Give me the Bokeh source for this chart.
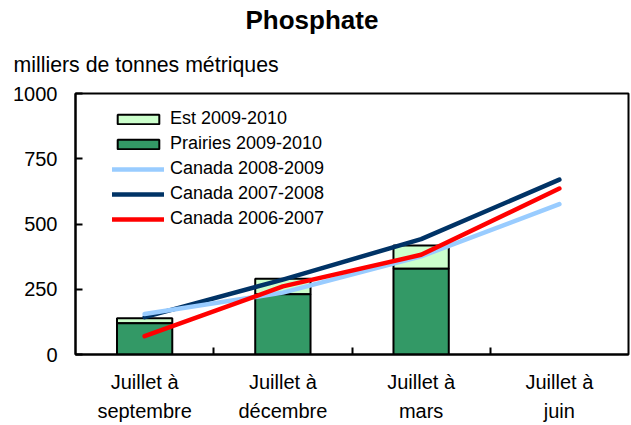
from bokeh.plotting import figure
from bokeh.models import (FixedTicker, Title, Legend, LegendItem, ColumnDataSource, Range1d)
from bokeh.embed import file_html
from bokeh.resources import INLINE

# ---- data ----
categories = ["Juillet à\nseptembre", "Juillet à\ndécembre", "Juillet à\nmars", "Juillet à\njuin"]
prairies_2009_2010 = [120, 231, 329]
est_2009_2010 = [19, 59, 89]
canada_2008_2009 = [155, 237, 376, 576]
canada_2007_2008 = [143, 287, 442, 670]
canada_2006_2007 = [70, 261, 382, 636]
y_ticks = [0, 250, 500, 750, 1000]

FONT = "Liberation Sans"

pos = [i + 0.5 for i in range(len(categories))]
bar_pos = pos[:len(prairies_2009_2010)]
bar_top_prairies = prairies_2009_2010
bar_top_total = [a + b for a, b in zip(prairies_2009_2010, est_2009_2010)]

p = figure(width=631, height=425, output_backend="svg", toolbar_location=None,
           x_range=Range1d(0, len(categories)), y_range=Range1d(0, 1000),
           title="Phosphate",
           min_border_left=75, min_border_right=3, min_border_top=93, min_border_bottom=0)

p.title.align = "left"
p.title.offset = 170
p.title.text_font = FONT
p.title.text_font_size = "26px"
p.title.text_font_style = "bold"
p.title.text_color = "black"
p.title.standoff = 0
p.add_layout(Title(text="milliers de tonnes métriques", align="left", offset=-62, text_font=FONT,
                   text_font_size="21.3px", text_font_style="normal", text_color="black",
                   standoff=33), "above")

p.grid.visible = False
p.background_fill_color = "white"
p.outline_line_color = "black"
p.outline_line_width = 2
p.outline_line_alpha = 1

# bars
src = ColumnDataSource(dict(x=bar_pos, prairies=bar_top_prairies, total=bar_top_total))
r_est = p.vbar(x="x", bottom="prairies", top="total", width=0.4, source=src,
               fill_color="#CCFFCC", line_color="black", line_width=2)
r_pr = p.vbar(x="x", bottom=0, top="prairies", width=0.4, source=src,
              fill_color="#339966", line_color="black", line_width=2)

# lines
r_c08 = p.line(pos, canada_2007_2008, line_color="#003366", line_width=4.5, line_cap="round", line_join="round")
r_c09 = p.line(pos, canada_2008_2009, line_color="#99CCFF", line_width=4.5, line_cap="round", line_join="round")
r_c07 = p.line(pos, canada_2006_2007, line_color="#FF0000", line_width=4.5, line_cap="round", line_join="round")

# axes
xa = p.xaxis[0]
xa.ticker = FixedTicker(ticks=pos, minor_ticks=[1, 2, 3])
xa.major_label_overrides = {x: c for x, c in zip(pos, categories)}
xa.major_tick_in = 0
xa.major_tick_out = 0
xa.minor_tick_in = 7
xa.minor_tick_out = 0
xa.minor_tick_line_width = 2
xa.minor_tick_line_color = "black"
xa.axis_line_width = 2
xa.axis_line_color = "black"
xa.major_label_text_font = FONT
xa.major_label_text_font_size = "20px"
xa.major_label_text_color = "black"
xa.major_label_text_line_height = 1.35
xa.major_label_standoff = 16

ya = p.yaxis[0]
ya.ticker = FixedTicker(ticks=y_ticks)
ya.major_tick_in = 7
ya.major_tick_out = 0
ya.major_tick_line_width = 2
ya.major_tick_line_color = "black"
ya.minor_tick_line_color = None
ya.axis_line_width = 2
ya.axis_line_color = "black"
ya.major_label_text_font = FONT
ya.major_label_text_font_size = "20px"
ya.major_label_text_color = "black"
ya.major_label_standoff = 18

legend = Legend(items=[
    LegendItem(label="Est 2009-2010", renderers=[r_est]),
    LegendItem(label="Prairies 2009-2010", renderers=[r_pr]),
    LegendItem(label="Canada 2008-2009", renderers=[r_c09]),
    LegendItem(label="Canada 2007-2008", renderers=[r_c08]),
    LegendItem(label="Canada 2006-2007", renderers=[r_c07]),
], location=(37, 125))
legend.border_line_color = None
legend.background_fill_alpha = 0
legend.padding = 0
legend.margin = 0
legend.spacing = 4
legend.glyph_width = 52
legend.glyph_height = 12
legend.label_height = 12
legend.label_standoff = 6
legend.label_text_font = FONT
legend.label_text_font_size = "18px"
legend.label_text_color = "black"
p.add_layout(legend)

open("out.html", "w").write(file_html(p, INLINE))
